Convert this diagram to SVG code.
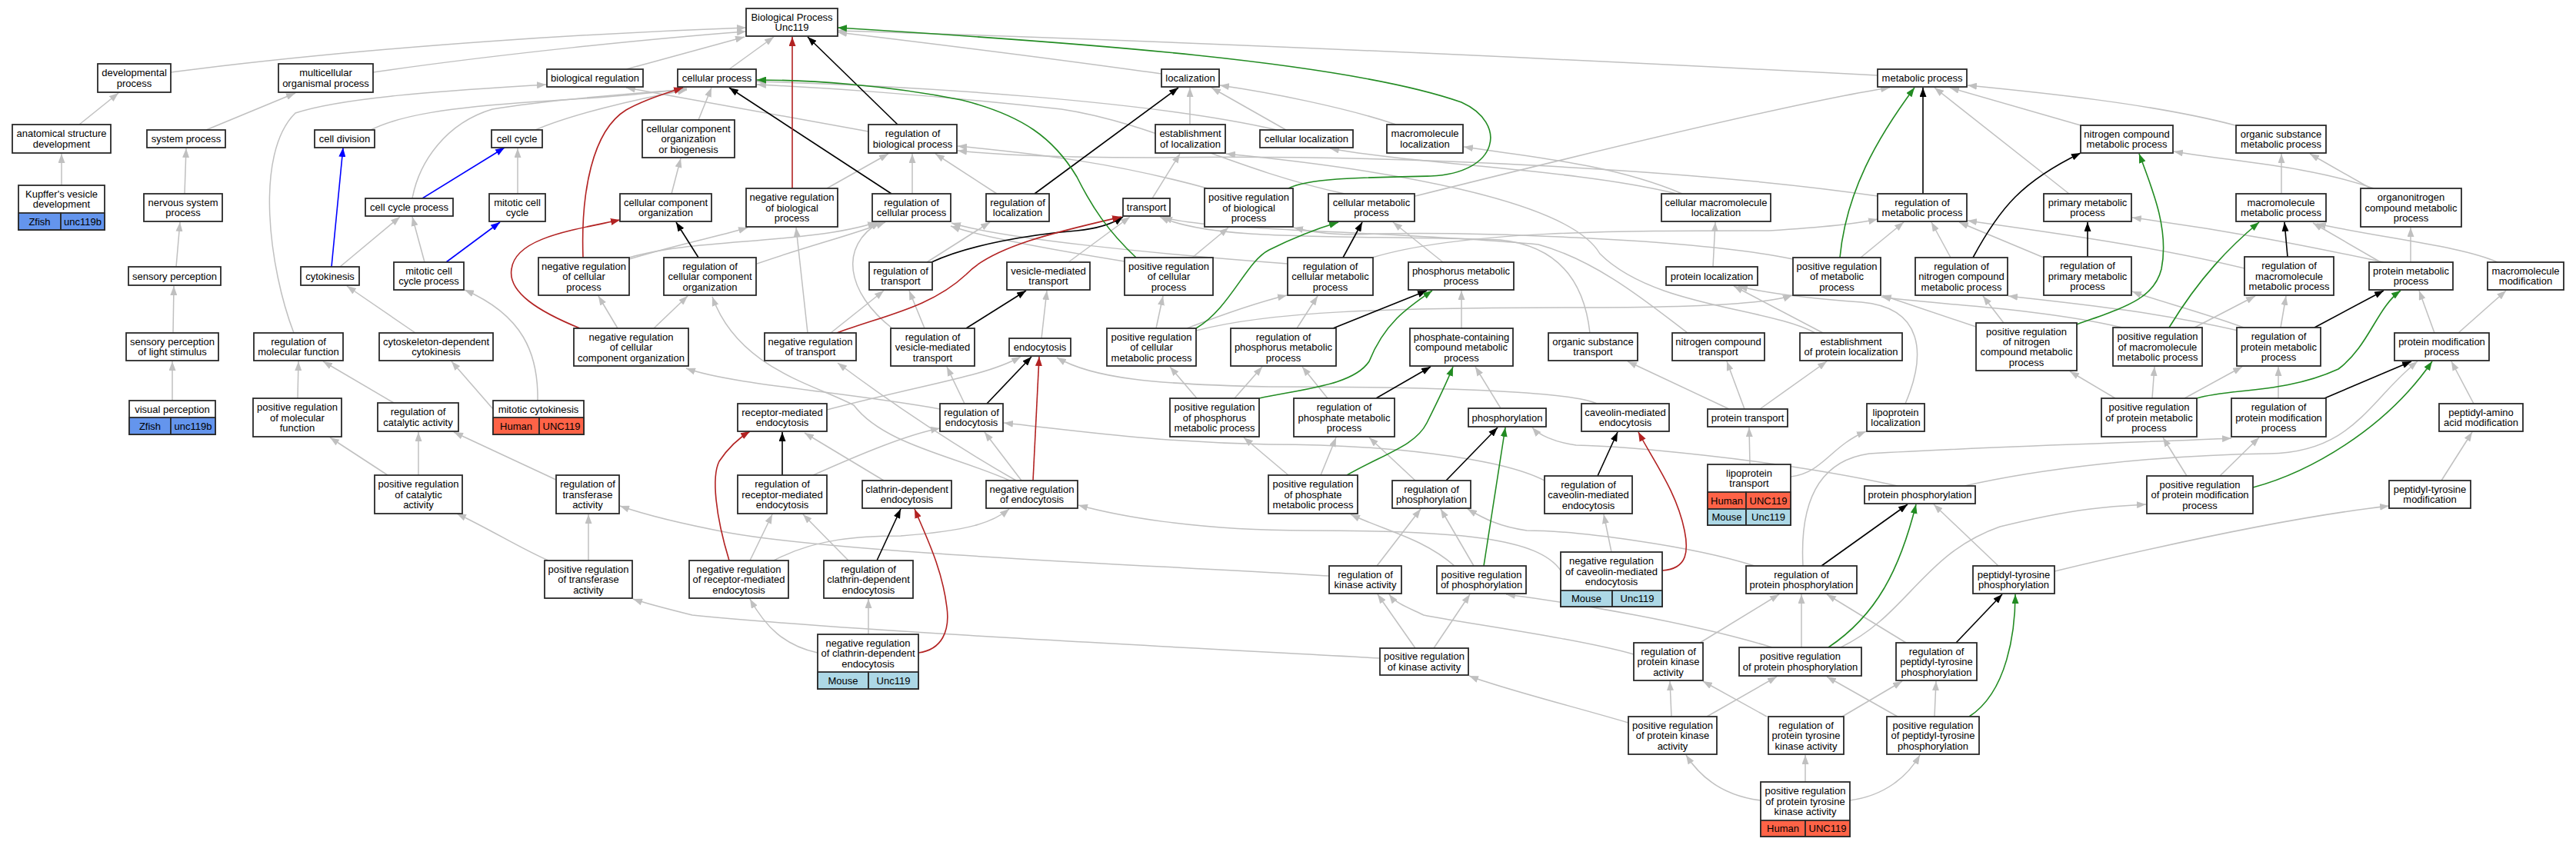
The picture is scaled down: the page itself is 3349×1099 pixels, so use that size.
<svg xmlns="http://www.w3.org/2000/svg" width="3349" height="1099" viewBox="0 0 3349 1099">
<style>
text{font-family:"Liberation Sans",Arial,sans-serif;font-size:13px;text-anchor:middle;fill:#000}
.n rect{fill:#fff;stroke:#2a2a2a;stroke-width:1.8}
.n rect.zf{fill:#6495ed}
.n rect.hu{fill:#ff6347}
.n rect.mo{fill:#add8e6}
.e path{fill:none;stroke-width:1.5}
.e .g{stroke:#c0c0c0;marker-end:url(#ag)}
.e .k{stroke:#000;stroke-width:1.6;marker-end:url(#ak)}
.e .r{stroke:#b22222;stroke-width:1.6;marker-end:url(#ar)}
.e .v{stroke:#228b22;stroke-width:1.6;marker-end:url(#av)}
.e .b{stroke:#0000ff;stroke-width:1.6;marker-end:url(#ab)}
</style>
<defs>
<marker id="ag" viewBox="0 0 12 9" refX="12" refY="4.5" markerWidth="12" markerHeight="9" markerUnits="userSpaceOnUse" orient="auto"><path d="M0,0L12,4.5L0,9z" fill="#c0c0c0"/></marker>
<marker id="ak" viewBox="0 0 12 9" refX="12" refY="4.5" markerWidth="12" markerHeight="9" markerUnits="userSpaceOnUse" orient="auto"><path d="M0,0L12,4.5L0,9z" fill="#000"/></marker>
<marker id="ar" viewBox="0 0 12 9" refX="12" refY="4.5" markerWidth="12" markerHeight="9" markerUnits="userSpaceOnUse" orient="auto"><path d="M0,0L12,4.5L0,9z" fill="#b22222"/></marker>
<marker id="av" viewBox="0 0 12 9" refX="12" refY="4.5" markerWidth="12" markerHeight="9" markerUnits="userSpaceOnUse" orient="auto"><path d="M0,0L12,4.5L0,9z" fill="#228b22"/></marker>
<marker id="ab" viewBox="0 0 12 9" refX="12" refY="4.5" markerWidth="12" markerHeight="9" markerUnits="userSpaceOnUse" orient="auto"><path d="M0,0L12,4.5L0,9z" fill="#0000ff"/></marker>
</defs>
<rect x="0" y="0" width="3349" height="1099" fill="#fff"/>
<g id="connectors" class="e">
<path class="g" d="M222,94 C500,58 800,42 970,36"/>
<path class="g" d="M485,94 C650,70 850,50 970,41"/>
<path class="g" d="M814,90 C870,75 930,58 968,48"/>
<path class="g" d="M948,90 L1006,48"/>
<path class="g" d="M1510,96 C1450,88 1380,77 1089,42"/>
<path class="g" d="M2441,98 C2000,75 1500,52 1089,40"/>
<path class="g" d="M103,162 L154,121"/>
<path class="g" d="M80,241 L80,200"/>
<path class="g" d="M268,169 L384,121"/>
<path class="g" d="M240,252 L242,193"/>
<path class="g" d="M229,347 L234,289"/>
<path class="g" d="M225,433 L226,372"/>
<path class="g" d="M224,521 L224,470"/>
<path class="g" d="M482,169 C520,150 580,140 700,132 C800,126 860,120 893,115"/>
<path class="g" d="M536,258 C545,210 580,160 640,142 C720,128 850,120 893,116"/>
<path class="g" d="M696,169 C740,150 820,130 893,117"/>
<path class="g" d="M382,433 C350,350 330,200 384,147 C450,125 600,117 710,110"/>
<path class="g" d="M387,518 L388,470"/>
<path class="g" d="M512,524 L420,470"/>
<path class="g" d="M540,433 L451,372"/>
<path class="g" d="M641,532 L587,470"/>
<path class="g" d="M699,521 C700,460 680,410 604,377"/>
<path class="g" d="M442,347 L520,282"/>
<path class="g" d="M552,341 L536,282"/>
<path class="g" d="M673,252 L673,193"/>
<path class="g" d="M873,252 L885,206"/>
<path class="g" d="M908,156 L925,114"/>
<path class="g" d="M984,343 C1050,320 1110,305 1151,289"/>
<path class="g" d="M818,335 C900,310 1050,318 1140,289"/>
<path class="g" d="M818,337 C880,318 940,306 972,296"/>
<path class="g" d="M1075,245 L1155,200"/>
<path class="g" d="M1186,252 L1186,200"/>
<path class="g" d="M1296,252 L1216,200"/>
<path class="g" d="M1129,171 L814,114"/>
<path class="g" d="M1570,245 C1450,212 1350,200 1245,190"/>
<path class="g" d="M2441,255 C2200,220 1800,200 1500,205 C1400,205 1300,202 1245,196"/>
<path class="g" d="M1205,341 L1287,289"/>
<path class="g" d="M1498,258 L1534,200"/>
<path class="g" d="M1547,162 L1547,114"/>
<path class="g" d="M1672,169 L1575,114"/>
<path class="g" d="M1815,162 C1750,140 1650,120 1586,111"/>
<path class="g" d="M1660,169 C1500,132 1200,112 984,106"/>
<path class="g" d="M1748,252 C1600,220 1500,160 1380,142 C1200,122 1050,113 984,110"/>
<path class="g" d="M1840,255 C2100,190 2350,130 2457,114"/>
<path class="g" d="M2705,163 L2535,114"/>
<path class="g" d="M2906,163 C2800,135 2650,120 2558,111"/>
<path class="g" d="M2690,252 L2515,114"/>
<path class="g" d="M2966,252 L2966,200"/>
<path class="g" d="M3086,245 C3000,215 2900,210 2826,197"/>
<path class="g" d="M3082,245 L3003,200"/>
<path class="g" d="M3134,341 L3134,296"/>
<path class="g" d="M3095,341 L3007,290"/>
<path class="g" d="M3099,341 C3000,320 2900,300 2772,283"/>
<path class="g" d="M3247,341 C3200,320 3100,310 3012,291"/>
<path class="g" d="M1080,433 L1149,378"/>
<path class="g" d="M1050,433 L1035,296"/>
<path class="g" d="M1202,427 L1182,378"/>
<path class="g" d="M1160,427 C1100,380 1090,320 1144,289"/>
<path class="g" d="M803,427 L778,385"/>
<path class="g" d="M850,427 L894,385"/>
<path class="g" d="M1354,440 L1361,378"/>
<path class="g" d="M1389,341 L1469,282"/>
<path class="g" d="M1254,525 L1231,477"/>
<path class="g" d="M1075,533 C1200,500 1280,490 1327,464"/>
<path class="g" d="M1328,625 L1280,562"/>
<path class="g" d="M1321,625 C1260,590 1180,540 1089,472"/>
<path class="g" d="M1222,532 C1100,510 950,500 892,479"/>
<path class="g" d="M1317,627 C1250,595 1150,580 1110,527 C1060,500 960,480 926,386"/>
<path class="g" d="M1057,618 C1120,590 1180,565 1222,557"/>
<path class="g" d="M1149,625 L1046,563"/>
<path class="g" d="M2076,525 C2050,511 1900,503 1650,503 C1500,500 1420,492 1374,465"/>
<path class="g" d="M723,624 L590,562"/>
<path class="g" d="M544,618 L544,562"/>
<path class="g" d="M504,618 L429,569"/>
<path class="g" d="M765,729 L765,669"/>
<path class="g" d="M713,729 C680,715 640,690 594,668"/>
<path class="g" d="M1728,749 C1500,735 1100,720 948,693 C880,680 840,670 806,658"/>
<path class="g" d="M1794,856 C1500,840 1100,820 900,800 C860,790 840,785 823,779"/>
<path class="g" d="M1103,729 L1044,669"/>
<path class="g" d="M975,729 L1004,669"/>
<path class="g" d="M1006,729 C1060,700 1120,697 1171,697 C1260,690 1290,680 1312,662"/>
<path class="g" d="M1129,825 L1129,779"/>
<path class="g" d="M1063,849 C1020,840 995,815 975,779"/>
<path class="g" d="M1556,518 L1521,477"/>
<path class="g" d="M1605,518 L1641,477"/>
<path class="g" d="M1726,518 L1693,477"/>
<path class="g" d="M1900,427 L1900,378"/>
<path class="g" d="M1951,531 L1918,477"/>
<path class="g" d="M1503,427 L1512,385"/>
<path class="g" d="M1543,427 C1600,405 1640,392 1673,384"/>
<path class="g" d="M1555,430 C1650,405 1800,400 2060,400 C2200,400 2300,395 2330,384"/>
<path class="g" d="M1686,427 L1713,385"/>
<path class="g" d="M1876,341 L1811,289"/>
<path class="g" d="M1674,343 C1500,330 1300,310 1237,290"/>
<path class="g" d="M1462,340 C1350,322 1270,306 1236,294"/>
<path class="g" d="M1550,335 L1597,296"/>
<path class="g" d="M1784,335 C1900,300 2100,300 2300,300 C2380,295 2420,290 2441,285"/>
<path class="g" d="M2331,337 C2200,310 1900,300 1760,305 C1720,305 1700,300 1682,296"/>
<path class="g" d="M2419,335 L2475,289"/>
<path class="g" d="M2536,335 L2511,289"/>
<path class="g" d="M2657,335 L2547,289"/>
<path class="g" d="M2918,349 C2800,320 2650,300 2558,287"/>
<path class="g" d="M2067,433 C2060,370 2030,320 1950,312 C1750,305 1580,315 1508,282"/>
<path class="g" d="M2194,433 C2150,400 2080,340 2000,318 C1800,300 1560,300 1512,282"/>
<path class="g" d="M2370,433 L2254,372"/>
<path class="g" d="M2360,433 C2300,400 2150,400 2080,330 C2040,260 1800,220 1594,200"/>
<path class="g" d="M2227,347 L2230,289"/>
<path class="g" d="M2187,252 C2100,215 2000,205 1903,191"/>
<path class="g" d="M2180,252 C2050,220 1850,215 1729,193"/>
<path class="g" d="M2477,525 C2505,460 2500,400 2420,393 C2350,388 2290,380 2260,372"/>
<path class="g" d="M2605,420 L2578,385"/>
<path class="g" d="M2569,425 L2447,384"/>
<path class="g" d="M2853,426 L2932,385"/>
<path class="g" d="M2759,426 C2650,400 2500,395 2446,386"/>
<path class="g" d="M2965,426 L2972,385"/>
<path class="g" d="M2917,426 C2860,405 2800,390 2772,379"/>
<path class="g" d="M2910,430 C2800,405 2700,395 2611,385"/>
<path class="g" d="M3165,433 L3145,378"/>
<path class="g" d="M3196,433 L3258,378"/>
<path class="g" d="M2840,518 L2915,477"/>
<path class="g" d="M2798,518 L2801,477"/>
<path class="g" d="M2750,518 L2691,483"/>
<path class="g" d="M2962,518 L2962,477"/>
<path class="g" d="M3216,525 L3187,470"/>
<path class="g" d="M1675,618 L1617,569"/>
<path class="g" d="M1717,618 L1737,569"/>
<path class="g" d="M1840,625 L1780,569"/>
<path class="g" d="M2008,625 C1950,595 1800,578 1650,578 C1500,575 1400,560 1305,550"/>
<path class="g" d="M2275,604 L2274,556"/>
<path class="g" d="M2328,620 C2370,615 2380,580 2426,561"/>
<path class="g" d="M2467,632 C2300,595 2100,580 2049,579 C2020,575 2000,565 1992,556"/>
<path class="g" d="M2554,632 C2650,610 2800,592 2950,590 C3060,588 3080,520 3143,470"/>
<path class="g" d="M2095,718 L2085,669"/>
<path class="g" d="M2029,742 C2000,700 1900,690 1700,690 C1550,690 1450,670 1402,657"/>
<path class="g" d="M2281,736 C2200,710 2050,690 1985,690 C1950,685 1930,675 1908,662"/>
<path class="g" d="M2344,736 C2340,660 2360,600 2430,590 C2600,580 2800,575 2901,570"/>
<path class="g" d="M2598,736 L2514,656"/>
<path class="g" d="M2671,743 C2850,700 3000,670 3106,658"/>
<path class="g" d="M1790,736 L1847,662"/>
<path class="g" d="M1916,736 L1873,662"/>
<path class="g" d="M1891,736 C1850,700 1800,690 1756,669"/>
<path class="g" d="M1840,843 L1791,773"/>
<path class="g" d="M1864,843 L1911,773"/>
<path class="g" d="M2124,851 C2050,830 1900,810 1851,800 C1830,790 1815,785 1806,773"/>
<path class="g" d="M2210,836 L2313,773"/>
<path class="g" d="M2342,842 L2342,773"/>
<path class="g" d="M2304,842 C2200,810 2050,785 1958,773"/>
<path class="g" d="M2393,842 C2480,800 2500,720 2600,685 C2700,660 2750,658 2790,656"/>
<path class="g" d="M2478,836 L2375,773"/>
<path class="g" d="M2173,932 L2171,886"/>
<path class="g" d="M2219,932 L2310,880"/>
<path class="g" d="M2117,940 C2050,920 1950,895 1910,879"/>
<path class="g" d="M2297,932 L2214,886"/>
<path class="g" d="M2395,932 L2473,886"/>
<path class="g" d="M2467,932 L2375,880"/>
<path class="g" d="M2515,932 L2517,886"/>
<path class="g" d="M2289,1041 C2240,1035 2210,1010 2192,982"/>
<path class="g" d="M2347,1017 L2347,982"/>
<path class="g" d="M2405,1041 C2450,1035 2480,1010 2496,982"/>
<path class="g" d="M3174,625 L3214,562"/>
<path class="g" d="M2886,619 L2937,569"/>
<path class="g" d="M2843,619 L2812,569"/>
<path class="g" d="M2248,532 L2116,470"/>
<path class="g" d="M2268,532 L2245,470"/>
<path class="g" d="M2288,532 L2375,470"/>
<path class="k" d="M1167,162 L1050,48"/>
<path class="k" d="M1159,252 L948,114"/>
<path class="k" d="M1345,252 L1532,114"/>
<path class="k" d="M908,335 L879,289"/>
<path class="k" d="M1211,341 C1260,318 1340,305 1400,300 C1430,297 1448,290 1460,282"/>
<path class="k" d="M1256,427 L1334,378"/>
<path class="k" d="M1283,525 L1341,464"/>
<path class="k" d="M1017,618 L1017,562"/>
<path class="k" d="M1140,729 L1171,662"/>
<path class="k" d="M1746,335 L1771,289"/>
<path class="k" d="M1733,427 L1855,378"/>
<path class="k" d="M1789,518 L1860,477"/>
<path class="k" d="M1880,625 L1947,556"/>
<path class="k" d="M2500,252 L2500,114"/>
<path class="k" d="M2565,335 C2600,270 2629,236 2705,199"/>
<path class="k" d="M2714,334 L2714,289"/>
<path class="k" d="M2974,334 L2970,289"/>
<path class="k" d="M3009,426 L3099,378"/>
<path class="k" d="M3022,518 L3135,470"/>
<path class="k" d="M2077,619 L2103,562"/>
<path class="k" d="M2368,736 L2480,656"/>
<path class="k" d="M2543,836 L2603,773"/>
<path class="r" d="M1030,245 L1030,48"/>
<path class="r" d="M758,335 C755,250 770,170 814,143 C840,128 870,120 888,114"/>
<path class="r" d="M754,427 C700,405 660,380 665,350 C670,310 740,300 806,286"/>
<path class="r" d="M1088,433 C1150,410 1210,400 1256,357 C1290,320 1380,300 1458,282"/>
<path class="r" d="M1343,625 L1351,464"/>
<path class="r" d="M948,729 C930,670 925,620 935,600 C945,585 960,570 975,561"/>
<path class="r" d="M1194,849 C1225,845 1235,820 1231,790 C1225,740 1205,700 1189,662"/>
<path class="r" d="M2161,742 C2195,740 2195,715 2190,690 C2180,640 2150,600 2130,562"/>
<path class="v" d="M1675,245 C1700,232 1760,231 1860,229 C1950,225 1960,160 1900,133 C1750,80 1400,55 1089,36"/>
<path class="v" d="M1477,335 C1440,300 1420,270 1400,230 C1370,180 1330,150 1250,130 C1150,110 1050,104 984,104"/>
<path class="v" d="M1555,427 C1600,400 1620,340 1650,325 C1680,310 1710,298 1740,289"/>
<path class="v" d="M1637,518 C1700,505 1760,500 1780,470 C1800,420 1830,400 1862,378"/>
<path class="v" d="M1751,618 C1800,590 1840,580 1855,550 C1870,520 1880,500 1889,477"/>
<path class="v" d="M2392,335 C2400,250 2440,180 2489,114"/>
<path class="v" d="M2700,422 C2760,400 2800,390 2810,350 C2820,300 2800,250 2781,200"/>
<path class="v" d="M2820,426 C2860,360 2900,320 2937,289"/>
<path class="v" d="M2856,518 C2900,505 2970,512 3040,480 C3080,450 3090,400 3121,378"/>
<path class="v" d="M2929,634 C3000,615 3100,560 3162,470"/>
<path class="v" d="M1929,736 L1957,556"/>
<path class="v" d="M2377,842 C2440,800 2470,740 2491,656"/>
<path class="v" d="M2560,932 C2610,900 2620,820 2620,773"/>
<path class="b" d="M431,347 L446,192"/>
<path class="b" d="M549,258 L656,192"/>
<path class="b" d="M580,341 L650,289"/>
</g>
<g id="bp" class="n"><rect x="970" y="11" width="119" height="36"/><text x="1029.5" y="26.9"><tspan x="1029.5">Biological Process</tspan><tspan x="1029.5" dy="13.4">Unc119</tspan></text></g>
<g id="dev" class="n"><rect x="127" y="83" width="95" height="37"/><text x="174.5" y="99.4"><tspan x="174.5">developmental</tspan><tspan x="174.5" dy="13.4">process</tspan></text></g>
<g id="multi" class="n"><rect x="362" y="83" width="123" height="37"/><text x="423.5" y="99.4"><tspan x="423.5">multicellular</tspan><tspan x="423.5" dy="13.4">organismal process</tspan></text></g>
<g id="bioreg" class="n"><rect x="711" y="90" width="125" height="23"/><text x="773.5" y="106.1">biological regulation</text></g>
<g id="cellproc" class="n"><rect x="881" y="90" width="102" height="23"/><text x="932" y="106.1">cellular process</text></g>
<g id="loc" class="n"><rect x="1510" y="90" width="75" height="23"/><text x="1547.5" y="106.1">localization</text></g>
<g id="metab" class="n"><rect x="2441" y="90" width="116" height="23"/><text x="2499" y="106.1">metabolic process</text></g>
<g id="anat" class="n"><rect x="16" y="162" width="128" height="37"/><text x="80" y="178.4"><tspan x="80">anatomical structure</tspan><tspan x="80" dy="13.4">development</tspan></text></g>
<g id="sysproc" class="n"><rect x="191" y="169" width="102" height="23"/><text x="242" y="185.1">system process</text></g>
<g id="celldiv" class="n"><rect x="409" y="169" width="78" height="23"/><text x="448" y="185.1">cell division</text></g>
<g id="cellcycle" class="n"><rect x="639" y="169" width="66" height="23"/><text x="672" y="185.1">cell cycle</text></g>
<g id="ccob" class="n"><rect x="835" y="156" width="120" height="49"/><text x="895" y="171.7"><tspan x="895">cellular component</tspan><tspan x="895" dy="13.4">organization</tspan><tspan x="895" dy="13.4">or biogenesis</tspan></text></g>
<g id="regbio" class="n"><rect x="1129" y="162" width="115" height="37"/><text x="1186.5" y="178.4"><tspan x="1186.5">regulation of</tspan><tspan x="1186.5" dy="13.4">biological process</tspan></text></g>
<g id="estloc" class="n"><rect x="1502" y="162" width="91" height="37"/><text x="1547.5" y="178.4"><tspan x="1547.5">establishment</tspan><tspan x="1547.5" dy="13.4">of localization</tspan></text></g>
<g id="cellloc" class="n"><rect x="1638" y="169" width="121" height="23"/><text x="1698.5" y="185.1">cellular localization</text></g>
<g id="macroloc" class="n"><rect x="1803" y="162" width="99" height="37"/><text x="1852.5" y="178.4"><tspan x="1852.5">macromolecule</tspan><tspan x="1852.5" dy="13.4">localization</tspan></text></g>
<g id="ncmp" class="n"><rect x="2705" y="163" width="120" height="36"/><text x="2765" y="178.9"><tspan x="2765">nitrogen compound</tspan><tspan x="2765" dy="13.4">metabolic process</tspan></text></g>
<g id="osmp" class="n"><rect x="2907" y="163" width="117" height="36"/><text x="2965.5" y="178.9"><tspan x="2965.5">organic substance</tspan><tspan x="2965.5" dy="13.4">metabolic process</tspan></text></g>
<g id="kupffer" class="n"><rect x="24" y="241" width="112" height="58"/><rect class="zf" x="24" y="277" width="55" height="22"/><rect class="zf" x="79" y="277" width="57" height="22"/><text x="80" y="256.9"><tspan x="80">Kupffer's vesicle</tspan><tspan x="80" dy="13.4">development</tspan></text><text x="51.5" y="292.6">Zfish</text><text x="107.5" y="292.6">unc119b</text></g>
<g id="nsp" class="n"><rect x="187" y="252" width="102" height="36"/><text x="238" y="267.9"><tspan x="238">nervous system</tspan><tspan x="238" dy="13.4">process</tspan></text></g>
<g id="ccp" class="n"><rect x="475" y="258" width="114" height="23"/><text x="532" y="274.1">cell cycle process</text></g>
<g id="mcc" class="n"><rect x="636" y="252" width="73" height="36"/><text x="672.5" y="267.9"><tspan x="672.5">mitotic cell</tspan><tspan x="672.5" dy="13.4">cycle</tspan></text></g>
<g id="cco" class="n"><rect x="806" y="252" width="119" height="36"/><text x="865.5" y="267.9"><tspan x="865.5">cellular component</tspan><tspan x="865.5" dy="13.4">organization</tspan></text></g>
<g id="negregbio" class="n"><rect x="970" y="245" width="119" height="50"/><text x="1029.5" y="261.2"><tspan x="1029.5">negative regulation</tspan><tspan x="1029.5" dy="13.4">of biological</tspan><tspan x="1029.5" dy="13.4">process</tspan></text></g>
<g id="regcellproc" class="n"><rect x="1134" y="252" width="102" height="36"/><text x="1185" y="267.9"><tspan x="1185">regulation of</tspan><tspan x="1185" dy="13.4">cellular process</tspan></text></g>
<g id="regloc" class="n"><rect x="1282" y="252" width="82" height="36"/><text x="1323" y="267.9"><tspan x="1323">regulation of</tspan><tspan x="1323" dy="13.4">localization</tspan></text></g>
<g id="transport" class="n"><rect x="1460" y="258" width="61" height="23"/><text x="1490.5" y="274.1">transport</text></g>
<g id="posregbio" class="n"><rect x="1566" y="245" width="115" height="50"/><text x="1623.5" y="261.2"><tspan x="1623.5">positive regulation</tspan><tspan x="1623.5" dy="13.4">of biological</tspan><tspan x="1623.5" dy="13.4">process</tspan></text></g>
<g id="cellmetab" class="n"><rect x="1727" y="252" width="112" height="36"/><text x="1783" y="267.9"><tspan x="1783">cellular metabolic</tspan><tspan x="1783" dy="13.4">process</tspan></text></g>
<g id="cmloc" class="n"><rect x="2160" y="252" width="142" height="36"/><text x="2231" y="267.9"><tspan x="2231">cellular macromolecule</tspan><tspan x="2231" dy="13.4">localization</tspan></text></g>
<g id="regmetab" class="n"><rect x="2441" y="252" width="116" height="36"/><text x="2499" y="267.9"><tspan x="2499">regulation of</tspan><tspan x="2499" dy="13.4">metabolic process</tspan></text></g>
<g id="primmetab" class="n"><rect x="2657" y="252" width="114" height="36"/><text x="2714" y="267.9"><tspan x="2714">primary metabolic</tspan><tspan x="2714" dy="13.4">process</tspan></text></g>
<g id="macrometab" class="n"><rect x="2907" y="252" width="117" height="36"/><text x="2965.5" y="267.9"><tspan x="2965.5">macromolecule</tspan><tspan x="2965.5" dy="13.4">metabolic process</tspan></text></g>
<g id="orgnit" class="n"><rect x="3069" y="245" width="131" height="50"/><text x="3134.5" y="261.2"><tspan x="3134.5">organonitrogen</tspan><tspan x="3134.5" dy="13.4">compound metabolic</tspan><tspan x="3134.5" dy="13.4">process</tspan></text></g>
<g id="sensperc" class="n"><rect x="167" y="347" width="120" height="24"/><text x="227" y="363.6">sensory perception</text></g>
<g id="cytok" class="n"><rect x="391" y="347" width="76" height="24"/><text x="429" y="363.6">cytokinesis</text></g>
<g id="mccp" class="n"><rect x="512" y="341" width="91" height="36"/><text x="557.5" y="356.9"><tspan x="557.5">mitotic cell</tspan><tspan x="557.5" dy="13.4">cycle process</tspan></text></g>
<g id="negregcellproc" class="n"><rect x="700" y="335" width="118" height="49"/><text x="759" y="350.7"><tspan x="759">negative regulation</tspan><tspan x="759" dy="13.4">of cellular</tspan><tspan x="759" dy="13.4">process</tspan></text></g>
<g id="regcco" class="n"><rect x="863" y="335" width="120" height="49"/><text x="923" y="350.7"><tspan x="923">regulation of</tspan><tspan x="923" dy="13.4">cellular component</tspan><tspan x="923" dy="13.4">organization</tspan></text></g>
<g id="regtransport" class="n"><rect x="1130" y="341" width="82" height="36"/><text x="1171" y="356.9"><tspan x="1171">regulation of</tspan><tspan x="1171" dy="13.4">transport</tspan></text></g>
<g id="vesmed" class="n"><rect x="1309" y="341" width="108" height="36"/><text x="1363" y="356.9"><tspan x="1363">vesicle-mediated</tspan><tspan x="1363" dy="13.4">transport</tspan></text></g>
<g id="posregcellproc" class="n"><rect x="1462" y="335" width="115" height="49"/><text x="1519.5" y="350.7"><tspan x="1519.5">positive regulation</tspan><tspan x="1519.5" dy="13.4">of cellular</tspan><tspan x="1519.5" dy="13.4">process</tspan></text></g>
<g id="regcellmetab" class="n"><rect x="1674" y="335" width="111" height="49"/><text x="1729.5" y="350.7"><tspan x="1729.5">regulation of</tspan><tspan x="1729.5" dy="13.4">cellular metabolic</tspan><tspan x="1729.5" dy="13.4">process</tspan></text></g>
<g id="phosmetab" class="n"><rect x="1831" y="341" width="137" height="36"/><text x="1899.5" y="356.9"><tspan x="1899.5">phosphorus metabolic</tspan><tspan x="1899.5" dy="13.4">process</tspan></text></g>
<g id="protloc" class="n"><rect x="2166" y="347" width="119" height="24"/><text x="2225.5" y="363.6">protein localization</text></g>
<g id="posregmetab" class="n"><rect x="2331" y="335" width="114" height="49"/><text x="2388" y="350.7"><tspan x="2388">positive regulation</tspan><tspan x="2388" dy="13.4">of metabolic</tspan><tspan x="2388" dy="13.4">process</tspan></text></g>
<g id="regncmp" class="n"><rect x="2490" y="335" width="120" height="49"/><text x="2550" y="350.7"><tspan x="2550">regulation of</tspan><tspan x="2550" dy="13.4">nitrogen compound</tspan><tspan x="2550" dy="13.4">metabolic process</tspan></text></g>
<g id="regprim" class="n"><rect x="2657" y="334" width="114" height="50"/><text x="2714" y="350.2"><tspan x="2714">regulation of</tspan><tspan x="2714" dy="13.4">primary metabolic</tspan><tspan x="2714" dy="13.4">process</tspan></text></g>
<g id="regmacro" class="n"><rect x="2918" y="334" width="116" height="50"/><text x="2976" y="350.2"><tspan x="2976">regulation of</tspan><tspan x="2976" dy="13.4">macromolecule</tspan><tspan x="2976" dy="13.4">metabolic process</tspan></text></g>
<g id="protmetab" class="n"><rect x="3080" y="341" width="109" height="36"/><text x="3134.5" y="356.9"><tspan x="3134.5">protein metabolic</tspan><tspan x="3134.5" dy="13.4">process</tspan></text></g>
<g id="macromod" class="n"><rect x="3234" y="341" width="99" height="36"/><text x="3283.5" y="356.9"><tspan x="3283.5">macromolecule</tspan><tspan x="3283.5" dy="13.4">modification</tspan></text></g>
<g id="spls" class="n"><rect x="164" y="433" width="120" height="36"/><text x="224" y="448.9"><tspan x="224">sensory perception</tspan><tspan x="224" dy="13.4">of light stimulus</tspan></text></g>
<g id="regmf" class="n"><rect x="330" y="433" width="116" height="36"/><text x="388" y="448.9"><tspan x="388">regulation of</tspan><tspan x="388" dy="13.4">molecular function</tspan></text></g>
<g id="cdc" class="n"><rect x="493" y="433" width="148" height="36"/><text x="567" y="448.9"><tspan x="567">cytoskeleton-dependent</tspan><tspan x="567" dy="13.4">cytokinesis</tspan></text></g>
<g id="negregcco" class="n"><rect x="746" y="427" width="149" height="49"/><text x="820.5" y="442.7"><tspan x="820.5">negative regulation</tspan><tspan x="820.5" dy="13.4">of cellular</tspan><tspan x="820.5" dy="13.4">component organization</tspan></text></g>
<g id="negregtransport" class="n"><rect x="994" y="433" width="119" height="36"/><text x="1053.5" y="448.9"><tspan x="1053.5">negative regulation</tspan><tspan x="1053.5" dy="13.4">of transport</tspan></text></g>
<g id="regvmt" class="n"><rect x="1158" y="427" width="109" height="49"/><text x="1212.5" y="442.7"><tspan x="1212.5">regulation of</tspan><tspan x="1212.5" dy="13.4">vesicle-mediated</tspan><tspan x="1212.5" dy="13.4">transport</tspan></text></g>
<g id="endo" class="n"><rect x="1312" y="440" width="80" height="23"/><text x="1352" y="456.1">endocytosis</text></g>
<g id="posregcm" class="n"><rect x="1439" y="427" width="116" height="49"/><text x="1497" y="442.7"><tspan x="1497">positive regulation</tspan><tspan x="1497" dy="13.4">of cellular</tspan><tspan x="1497" dy="13.4">metabolic process</tspan></text></g>
<g id="regphosmetab" class="n"><rect x="1600" y="427" width="137" height="49"/><text x="1668.5" y="442.7"><tspan x="1668.5">regulation of</tspan><tspan x="1668.5" dy="13.4">phosphorus metabolic</tspan><tspan x="1668.5" dy="13.4">process</tspan></text></g>
<g id="pccmp" class="n"><rect x="1833" y="427" width="134" height="49"/><text x="1900" y="442.7"><tspan x="1900">phosphate-containing</tspan><tspan x="1900" dy="13.4">compound metabolic</tspan><tspan x="1900" dy="13.4">process</tspan></text></g>
<g id="ost" class="n"><rect x="2013" y="433" width="116" height="36"/><text x="2071" y="448.9"><tspan x="2071">organic substance</tspan><tspan x="2071" dy="13.4">transport</tspan></text></g>
<g id="nct" class="n"><rect x="2174" y="433" width="120" height="36"/><text x="2234" y="448.9"><tspan x="2234">nitrogen compound</tspan><tspan x="2234" dy="13.4">transport</tspan></text></g>
<g id="epl" class="n"><rect x="2340" y="433" width="133" height="36"/><text x="2406.5" y="448.9"><tspan x="2406.5">establishment</tspan><tspan x="2406.5" dy="13.4">of protein localization</tspan></text></g>
<g id="posregncmp" class="n"><rect x="2569" y="420" width="131" height="62"/><text x="2634.5" y="435.5"><tspan x="2634.5">positive regulation</tspan><tspan x="2634.5" dy="13.4">of nitrogen</tspan><tspan x="2634.5" dy="13.4">compound metabolic</tspan><tspan x="2634.5" dy="13.4">process</tspan></text></g>
<g id="posregmacro" class="n"><rect x="2747" y="426" width="116" height="50"/><text x="2805" y="442.2"><tspan x="2805">positive regulation</tspan><tspan x="2805" dy="13.4">of macromolecule</tspan><tspan x="2805" dy="13.4">metabolic process</tspan></text></g>
<g id="regprotmetab" class="n"><rect x="2908" y="426" width="109" height="50"/><text x="2962.5" y="442.2"><tspan x="2962.5">regulation of</tspan><tspan x="2962.5" dy="13.4">protein metabolic</tspan><tspan x="2962.5" dy="13.4">process</tspan></text></g>
<g id="protmod" class="n"><rect x="3113" y="433" width="123" height="36"/><text x="3174.5" y="448.9"><tspan x="3174.5">protein modification</tspan><tspan x="3174.5" dy="13.4">process</tspan></text></g>
<g id="visperc" class="n"><rect x="168" y="521" width="112" height="44"/><rect class="zf" x="168" y="543" width="54" height="22"/><rect class="zf" x="222" y="543" width="58" height="22"/><text x="224" y="536.6">visual perception</text><text x="195" y="558.6">Zfish</text><text x="251" y="558.6">unc119b</text></g>
<g id="posregmf" class="n"><rect x="329" y="518" width="115" height="50"/><text x="386.5" y="534.2"><tspan x="386.5">positive regulation</tspan><tspan x="386.5" dy="13.4">of molecular</tspan><tspan x="386.5" dy="13.4">function</tspan></text></g>
<g id="regcat" class="n"><rect x="491" y="524" width="105" height="37"/><text x="543.5" y="540.4"><tspan x="543.5">regulation of</tspan><tspan x="543.5" dy="13.4">catalytic activity</tspan></text></g>
<g id="mitcyt" class="n"><rect x="641" y="521" width="118" height="44"/><rect class="hu" x="641" y="543" width="60" height="22"/><rect class="hu" x="701" y="543" width="58" height="22"/><text x="700" y="536.6">mitotic cytokinesis</text><text x="671" y="558.6">Human</text><text x="730" y="558.6">UNC119</text></g>
<g id="rme" class="n"><rect x="959" y="525" width="116" height="36"/><text x="1017" y="540.9"><tspan x="1017">receptor-mediated</tspan><tspan x="1017" dy="13.4">endocytosis</tspan></text></g>
<g id="regendo" class="n"><rect x="1222" y="525" width="82" height="36"/><text x="1263" y="540.9"><tspan x="1263">regulation of</tspan><tspan x="1263" dy="13.4">endocytosis</tspan></text></g>
<g id="posregphosmetab" class="n"><rect x="1521" y="518" width="116" height="50"/><text x="1579" y="534.2"><tspan x="1579">positive regulation</tspan><tspan x="1579" dy="13.4">of phosphorus</tspan><tspan x="1579" dy="13.4">metabolic process</tspan></text></g>
<g id="regphosphate" class="n"><rect x="1682" y="518" width="131" height="50"/><text x="1747.5" y="534.2"><tspan x="1747.5">regulation of</tspan><tspan x="1747.5" dy="13.4">phosphate metabolic</tspan><tspan x="1747.5" dy="13.4">process</tspan></text></g>
<g id="phos" class="n"><rect x="1909" y="531" width="101" height="24"/><text x="1959.5" y="547.6">phosphorylation</text></g>
<g id="cme" class="n"><rect x="2056" y="525" width="114" height="36"/><text x="2113" y="540.9"><tspan x="2113">caveolin-mediated</tspan><tspan x="2113" dy="13.4">endocytosis</tspan></text></g>
<g id="prottrans" class="n"><rect x="2220" y="532" width="104" height="23"/><text x="2272" y="548.1">protein transport</text></g>
<g id="liploc" class="n"><rect x="2427" y="525" width="75" height="36"/><text x="2464.5" y="540.9"><tspan x="2464.5">lipoprotein</tspan><tspan x="2464.5" dy="13.4">localization</tspan></text></g>
<g id="posregprotmetab" class="n"><rect x="2732" y="518" width="124" height="50"/><text x="2794" y="534.2"><tspan x="2794">positive regulation</tspan><tspan x="2794" dy="13.4">of protein metabolic</tspan><tspan x="2794" dy="13.4">process</tspan></text></g>
<g id="regprotmod" class="n"><rect x="2901" y="518" width="123" height="50"/><text x="2962.5" y="534.2"><tspan x="2962.5">regulation of</tspan><tspan x="2962.5" dy="13.4">protein modification</tspan><tspan x="2962.5" dy="13.4">process</tspan></text></g>
<g id="paam" class="n"><rect x="3171" y="525" width="109" height="36"/><text x="3225.5" y="540.9"><tspan x="3225.5">peptidyl-amino</tspan><tspan x="3225.5" dy="13.4">acid modification</tspan></text></g>
<g id="posregcat" class="n"><rect x="487" y="618" width="114" height="50"/><text x="544" y="634.2"><tspan x="544">positive regulation</tspan><tspan x="544" dy="13.4">of catalytic</tspan><tspan x="544" dy="13.4">activity</tspan></text></g>
<g id="regtransf" class="n"><rect x="723" y="618" width="82" height="50"/><text x="764" y="634.2"><tspan x="764">regulation of</tspan><tspan x="764" dy="13.4">transferase</tspan><tspan x="764" dy="13.4">activity</tspan></text></g>
<g id="regrme" class="n"><rect x="959" y="618" width="116" height="50"/><text x="1017" y="634.2"><tspan x="1017">regulation of</tspan><tspan x="1017" dy="13.4">receptor-mediated</tspan><tspan x="1017" dy="13.4">endocytosis</tspan></text></g>
<g id="clathrin" class="n"><rect x="1121" y="625" width="116" height="36"/><text x="1179" y="640.9"><tspan x="1179">clathrin-dependent</tspan><tspan x="1179" dy="13.4">endocytosis</tspan></text></g>
<g id="negregendo" class="n"><rect x="1282" y="625" width="119" height="36"/><text x="1341.5" y="640.9"><tspan x="1341.5">negative regulation</tspan><tspan x="1341.5" dy="13.4">of endocytosis</tspan></text></g>
<g id="posregphosphate" class="n"><rect x="1649" y="618" width="116" height="50"/><text x="1707" y="634.2"><tspan x="1707">positive regulation</tspan><tspan x="1707" dy="13.4">of phosphate</tspan><tspan x="1707" dy="13.4">metabolic process</tspan></text></g>
<g id="regphosph" class="n"><rect x="1810" y="625" width="102" height="36"/><text x="1861" y="640.9"><tspan x="1861">regulation of</tspan><tspan x="1861" dy="13.4">phosphorylation</tspan></text></g>
<g id="regcme" class="n"><rect x="2008" y="619" width="114" height="49"/><text x="2065" y="634.7"><tspan x="2065">regulation of</tspan><tspan x="2065" dy="13.4">caveolin-mediated</tspan><tspan x="2065" dy="13.4">endocytosis</tspan></text></g>
<g id="liptrans" class="n"><rect x="2220" y="604" width="108" height="79"/><rect class="hu" x="2220" y="640" width="50" height="22"/><rect class="hu" x="2270" y="640" width="58" height="22"/><rect class="mo" x="2220" y="662" width="50" height="21"/><rect class="mo" x="2270" y="662" width="58" height="21"/><text x="2274" y="619.9"><tspan x="2274">lipoprotein</tspan><tspan x="2274" dy="13.4">transport</tspan></text><text x="2245" y="655.6">Human</text><text x="2299" y="655.6">UNC119</text><text x="2245" y="677">Mouse</text><text x="2299" y="677">Unc119</text></g>
<g id="protphos" class="n"><rect x="2424" y="632" width="144" height="23"/><text x="2496" y="648.1">protein phosphorylation</text></g>
<g id="posregprotmod" class="n"><rect x="2791" y="619" width="138" height="49"/><text x="2860" y="634.7"><tspan x="2860">positive regulation</tspan><tspan x="2860" dy="13.4">of protein modification</tspan><tspan x="2860" dy="13.4">process</tspan></text></g>
<g id="ptm" class="n"><rect x="3106" y="625" width="106" height="36"/><text x="3159" y="640.9"><tspan x="3159">peptidyl-tyrosine</tspan><tspan x="3159" dy="13.4">modification</tspan></text></g>
<g id="posregtransf" class="n"><rect x="708" y="729" width="114" height="49"/><text x="765" y="744.7"><tspan x="765">positive regulation</tspan><tspan x="765" dy="13.4">of transferase</tspan><tspan x="765" dy="13.4">activity</tspan></text></g>
<g id="negregrme" class="n"><rect x="896" y="729" width="129" height="49"/><text x="960.5" y="744.7"><tspan x="960.5">negative regulation</tspan><tspan x="960.5" dy="13.4">of receptor-mediated</tspan><tspan x="960.5" dy="13.4">endocytosis</tspan></text></g>
<g id="regclathrin" class="n"><rect x="1071" y="729" width="116" height="49"/><text x="1129" y="744.7"><tspan x="1129">regulation of</tspan><tspan x="1129" dy="13.4">clathrin-dependent</tspan><tspan x="1129" dy="13.4">endocytosis</tspan></text></g>
<g id="regkinase" class="n"><rect x="1728" y="736" width="94" height="36"/><text x="1775" y="751.9"><tspan x="1775">regulation of</tspan><tspan x="1775" dy="13.4">kinase activity</tspan></text></g>
<g id="posregphosph" class="n"><rect x="1868" y="736" width="116" height="36"/><text x="1926" y="751.9"><tspan x="1926">positive regulation</tspan><tspan x="1926" dy="13.4">of phosphorylation</tspan></text></g>
<g id="negregcme" class="n"><rect x="2029" y="718" width="132" height="71"/><rect class="mo" x="2029" y="768" width="67" height="21"/><rect class="mo" x="2096" y="768" width="65" height="21"/><text x="2095" y="734.2"><tspan x="2095">negative regulation</tspan><tspan x="2095" dy="13.4">of caveolin-mediated</tspan><tspan x="2095" dy="13.4">endocytosis</tspan></text><text x="2062.5" y="783">Mouse</text><text x="2128.5" y="783">Unc119</text></g>
<g id="regprotphos" class="n"><rect x="2270" y="736" width="144" height="36"/><text x="2342" y="751.9"><tspan x="2342">regulation of</tspan><tspan x="2342" dy="13.4">protein phosphorylation</tspan></text></g>
<g id="ptp" class="n"><rect x="2565" y="736" width="106" height="36"/><text x="2618" y="751.9"><tspan x="2618">peptidyl-tyrosine</tspan><tspan x="2618" dy="13.4">phosphorylation</tspan></text></g>
<g id="negregclathrin" class="n"><rect x="1063" y="825" width="131" height="71"/><rect class="mo" x="1063" y="874" width="66" height="22"/><rect class="mo" x="1129" y="874" width="65" height="22"/><text x="1128.5" y="840.7"><tspan x="1128.5">negative regulation</tspan><tspan x="1128.5" dy="13.4">of clathrin-dependent</tspan><tspan x="1128.5" dy="13.4">endocytosis</tspan></text><text x="1096" y="889.6">Mouse</text><text x="1161.5" y="889.6">Unc119</text></g>
<g id="posregkinase" class="n"><rect x="1794" y="843" width="115" height="35"/><text x="1851.5" y="858.4"><tspan x="1851.5">positive regulation</tspan><tspan x="1851.5" dy="13.4">of kinase activity</tspan></text></g>
<g id="regpka" class="n"><rect x="2124" y="836" width="90" height="49"/><text x="2169" y="851.7"><tspan x="2169">regulation of</tspan><tspan x="2169" dy="13.4">protein kinase</tspan><tspan x="2169" dy="13.4">activity</tspan></text></g>
<g id="posregprotphos" class="n"><rect x="2261" y="842" width="159" height="37"/><text x="2340.5" y="858.4"><tspan x="2340.5">positive regulation</tspan><tspan x="2340.5" dy="13.4">of protein phosphorylation</tspan></text></g>
<g id="regptp" class="n"><rect x="2465" y="836" width="105" height="49"/><text x="2517.5" y="851.7"><tspan x="2517.5">regulation of</tspan><tspan x="2517.5" dy="13.4">peptidyl-tyrosine</tspan><tspan x="2517.5" dy="13.4">phosphorylation</tspan></text></g>
<g id="posregpka" class="n"><rect x="2117" y="932" width="115" height="49"/><text x="2174.5" y="947.7"><tspan x="2174.5">positive regulation</tspan><tspan x="2174.5" dy="13.4">of protein kinase</tspan><tspan x="2174.5" dy="13.4">activity</tspan></text></g>
<g id="regptka" class="n"><rect x="2299" y="932" width="98" height="49"/><text x="2348" y="947.7"><tspan x="2348">regulation of</tspan><tspan x="2348" dy="13.4">protein tyrosine</tspan><tspan x="2348" dy="13.4">kinase activity</tspan></text></g>
<g id="posregptp" class="n"><rect x="2453" y="932" width="120" height="49"/><text x="2513" y="947.7"><tspan x="2513">positive regulation</tspan><tspan x="2513" dy="13.4">of peptidyl-tyrosine</tspan><tspan x="2513" dy="13.4">phosphorylation</tspan></text></g>
<g id="posregptka" class="n"><rect x="2289" y="1017" width="116" height="71"/><rect class="hu" x="2289" y="1067" width="58" height="21"/><rect class="hu" x="2347" y="1067" width="58" height="21"/><text x="2347" y="1033.2"><tspan x="2347">positive regulation</tspan><tspan x="2347" dy="13.4">of protein tyrosine</tspan><tspan x="2347" dy="13.4">kinase activity</tspan></text><text x="2318" y="1082">Human</text><text x="2376" y="1082">UNC119</text></g>
</svg>
